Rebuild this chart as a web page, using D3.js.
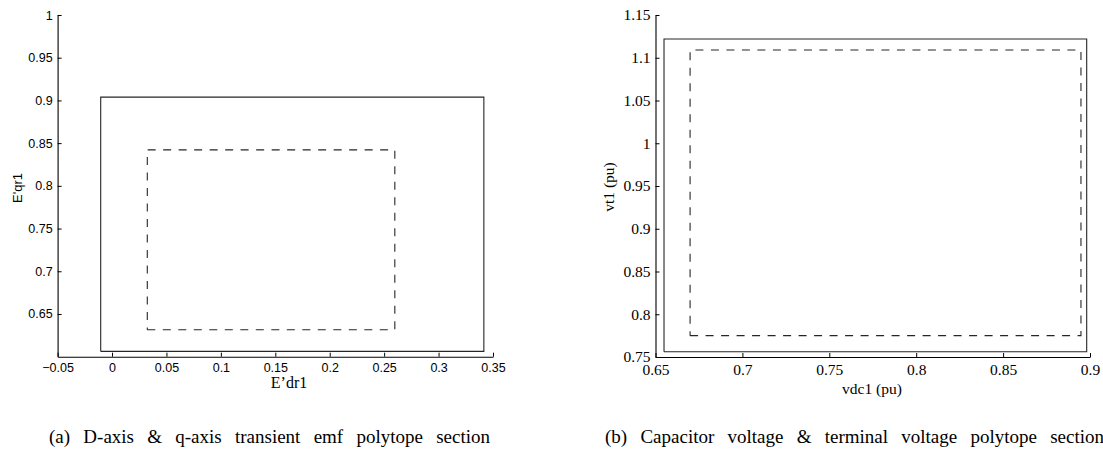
<!DOCTYPE html>
<html lang="en">
<head>
<meta charset="UTF-8">
<title>Polytope sections</title>
<script src="https://d3js.org/d3.v7.min.js"></script>
<style>
  body { margin: 0; background: #fff; }
  svg { display: block; }
</style>
</head>
<body>
<svg id="chart" width="1103" height="462"></svg>
<script>
// ---- data ----
// panel (a): E'dr1 vs E'qr1
const aXTicks = [-0.05, 0, 0.05, 0.1, 0.15, 0.2, 0.25, 0.3, 0.35];
const aYTicks = [0.65, 0.7, 0.75, 0.8, 0.85, 0.9, 0.95, 1];
const aOuterX = [-0.0104, 0.3416];   // solid box [min, max]
const aOuterY = [0.6062, 0.9039];
const aInnerX = [0.0324, 0.2598];    // dashed box
const aInnerY = [0.6316, 0.8421];

// panel (b): vdc1 vs vt1
const bXTicks = [0.65, 0.7, 0.75, 0.8, 0.85, 0.9];
const bYTicks = [0.75, 0.8, 0.85, 0.9, 0.95, 1, 1.05, 1.1, 1.15];
const bOuterX = [0.6549, 0.8981];
const bOuterY = [0.7562, 1.1219];
const bInnerX = [0.6699, 0.8948];
const bInnerY = [0.775, 1.109];

const svg = d3.select("#chart");

const SANS = "Liberation Sans, Arial, sans-serif";
const SERIF = "Liberation Serif, Times New Roman, serif";

function boxPoints(xs, ys) {
  return [[xs[0], ys[0]], [xs[1], ys[0]], [xs[1], ys[1]], [xs[0], ys[1]], [xs[0], ys[0]]];
}

function setFont(sel, family, size) {
  return sel.attr("font-family", family).style("font-family", family)
    .attr("font-size", size);
}

function panel(opt) {
  const g = svg.append("g");
  const x = d3.scaleLinear().domain(opt.xDomain).range(opt.xRange);
  const y = d3.scaleLinear().domain(opt.yDomain).range(opt.yRange);
  const line = d3.line().x(d => x(d[0])).y(d => y(d[1]));

  // polytope boxes
  g.append("path")
    .attr("d", line(boxPoints(opt.outerX, opt.outerY)))
    .attr("fill", "none").attr("stroke", "#262626").attr("stroke-width", 1.1);
  g.append("path")
    .attr("d", line(boxPoints(opt.innerX, opt.innerY)))
    .attr("fill", "none").attr("stroke", "#262626").attr("stroke-width", 1.1)
    .attr("stroke-dasharray", "8,7.5");

  const fmt = d => String(d).replace("-", "\u2212");

  // axes: MATLAB style ticks pointing inward, no box
  const xAxis = g.append("g")
    .attr("transform", `translate(0,${opt.yRange[0]})`)
    .call(d3.axisBottom(x).tickValues(opt.xTicks).tickFormat(fmt)
      .tickSizeInner(-4).tickSizeOuter(0).tickPadding(opt.xPad));
  const yAxis = g.append("g")
    .attr("transform", `translate(${opt.xRange[0]},0)`)
    .call(d3.axisLeft(y).tickValues(opt.yTicks).tickFormat(fmt)
      .tickSizeInner(-4).tickSizeOuter(0).tickPadding(5));

  [xAxis, yAxis].forEach(a => {
    setFont(a, opt.tickFamily, opt.tickFont);
    a.select(".domain").attr("stroke", "#000").attr("stroke-width", 1.1);
    a.selectAll(".tick line").attr("stroke", "#000");
    setFont(a.selectAll("text").attr("fill", "#000"), opt.tickFamily, opt.tickFont);
  });

  // axis titles
  setFont(g.append("text")
    .attr("x", opt.xLabelPos[0]).attr("y", opt.xLabelPos[1])
    .attr("text-anchor", "middle")
    .text(opt.xLabel), opt.xLabelFamily, opt.xLabelFont);
  setFont(g.append("text")
    .attr("transform", `translate(${opt.yLabelPos[0]},${opt.yLabelPos[1]}) rotate(-90)`)
    .attr("text-anchor", "middle")
    .text(opt.yLabel), opt.yLabelFamily, opt.yLabelFont);
}

panel({
  xDomain: [-0.05, 0.35], xRange: [57.6, 493],
  yDomain: [0.6, 1], yRange: [356.7, 15],
  xTicks: aXTicks, yTicks: aYTicks,
  outerX: aOuterX, outerY: aOuterY, innerX: aInnerX, innerY: aInnerY,
  tickFont: 12.5, tickFamily: SANS, xPad: 6,
  xLabel: "E\u2019dr1", xLabelPos: [289, 388], xLabelFamily: SERIF, xLabelFont: 16,
  yLabel: "E'qr1", yLabelPos: [21.5, 188], yLabelFamily: SANS, yLabelFont: 13
});

panel({
  xDomain: [0.65, 0.9], xRange: [655.5, 1090],
  yDomain: [0.75, 1.15], yRange: [357, 15],
  xTicks: bXTicks, yTicks: bYTicks,
  outerX: bOuterX, outerY: bOuterY, innerX: bInnerX, innerY: bInnerY,
  tickFont: 15.5, tickFamily: SERIF, xPad: 7,
  xLabel: "vdc1 (pu)", xLabelPos: [872, 394], xLabelFamily: SERIF, xLabelFont: 15.5,
  yLabel: "vt1 (pu)", yLabelPos: [614, 187], yLabelFamily: SERIF, yLabelFont: 15.5
});

// sub-figure captions (LaTeX style, stretched word spacing)
const capA = "(a) D-axis & q-axis transient emf polytope section";
const capB = "(b) Capacitor voltage & terminal voltage polytope section";
const tA = setFont(svg.append("text").attr("x", 49).attr("y", 443).text(capA), SERIF, 19);
const wA = tA.node().getComputedTextLength();
const ws = Math.max(0, (441 - wA) / (capA.split(" ").length - 1));
tA.attr("word-spacing", ws);
setFont(svg.append("text").attr("x", 605).attr("y", 443).text(capB), SERIF, 19)
  .attr("word-spacing", ws);
</script>
</body>
</html>
